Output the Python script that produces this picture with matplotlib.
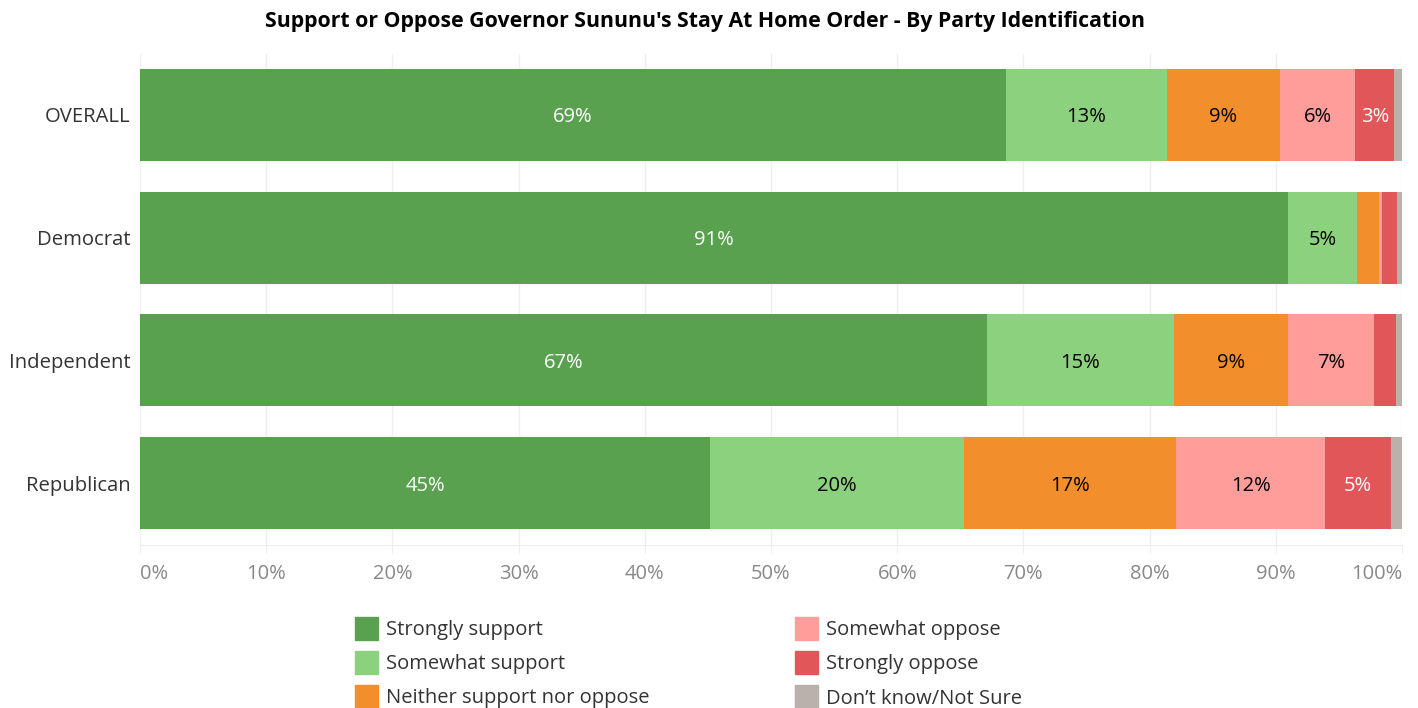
import matplotlib.pyplot as plt
from matplotlib.patches import Rectangle
import numpy as np

groups = ['OVERALL', 'Democrat', 'Independent', 'Republican']
responses = ['Strongly support', 'Somewhat support', 'Neither support nor oppose',
             'Somewhat oppose', 'Strongly oppose', 'Don\u2019t know/Not Sure']
strongly_support = [68.6, 91.0, 67.1, 45.2]
somewhat_support = [12.8, 5.4, 14.8, 20.1]
neither = [8.9, 1.8, 9.1, 16.8]
somewhat_oppose = [6.0, 0.2, 6.8, 11.8]
strongly_oppose = [3.1, 1.2, 1.7, 5.2]
dont_know = [0.6, 0.4, 0.5, 0.9]

colors = ['#59A14F', '#8CD17D', '#F28E2B', '#FF9D9A', '#E15759', '#BAB0AC']
text_colors = ['white', 'black', 'black', 'black', 'white', 'black']

plt.rcParams['font.family'] = ['Open Sans', 'DejaVu Sans']

W, H = 1418, 708
fig = plt.figure(figsize=(W / 100, H / 100), dpi=100)
ax = fig.add_axes([140 / W, 1 - 544.5 / H, 1262 / W, 491 / H])

series = [strongly_support, somewhat_support, neither, somewhat_oppose, strongly_oppose, dont_know]
y = np.arange(len(groups))
left = np.zeros(len(groups))
for vals, col, tcol, name in zip(series, colors, text_colors, responses):
    vals = np.array(vals)
    ax.barh(y, vals, left=left, height=0.75, color=col, label=name, zorder=2)
    for yi, l, v in zip(y, left, vals):
        if v >= 2.5:
            ax.text(l + v / 2, yi, '{:.0f}%'.format(v), ha='center', va='center_baseline',
                    color=tcol, fontsize=14.5, zorder=3)
    left = left + vals

ax.set_xlim(0, 100)
ax.set_ylim(3.5, -0.5)
ax.set_yticks(y)
ax.set_yticklabels(groups, fontsize=14.6, color='#333333')
ax.set_xticks(np.arange(0, 101, 10))
ax.set_xticklabels(['{}%'.format(t) for t in range(0, 101, 10)], fontsize=14.5, color='#888888')
xt = ax.get_xticklabels()
xt[0].set_ha('left')
xt[-1].set_ha('right')
ax.tick_params(axis='y', length=0, pad=7)
ax.tick_params(axis='x', length=6, color='#eeeeee', pad=8)
ax.grid(axis='x', color='#eeeeee', linewidth=1, zorder=0)
for s in ['top', 'right', 'left']:
    ax.spines[s].set_visible(False)
ax.spines['bottom'].set_color('#eeeeee')

fig.text(0.497, 1 - 22 / H, "Support or Oppose Governor Sununu's Stay At Home Order - By Party Identification",
         fontsize=15.3, fontweight='bold', ha='center', va='center')

# legend, two columns
for i, (name, col) in enumerate(zip(responses, colors)):
    cx = 355 if i < 3 else 795
    cy = 628 + 34 * (i % 3)
    fig.add_artist(Rectangle((cx / W, 1 - (cy + 11.5) / H), 23 / W, 23 / H,
                             color=col, transform=fig.transFigure))
    fig.text((cx + 31) / W, 1 - cy / H, name, fontsize=14.5, color='#333333',
             ha='left', va='center_baseline')

fig.savefig('out.png', dpi=100)
